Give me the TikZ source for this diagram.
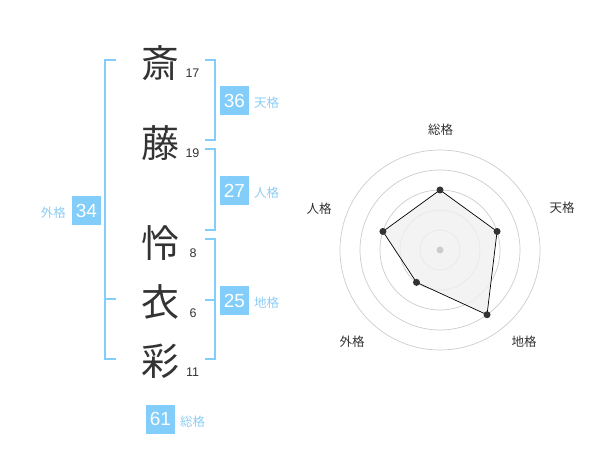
\documentclass[tikz,border=0pt]{standalone}
\usepackage{fontspec}
\setmainfont{Liberation Sans}
\newfontfamily\jp{Noto Sans CJK JP}
\definecolor{bluebox}{RGB}{130,205,250}
\definecolor{bluetxt}{RGB}{140,205,245}
\definecolor{kanjic}{RGB}{51,51,51}
\definecolor{ringc}{RGB}{204,204,204}
\definecolor{polyfill}{RGB}{240,240,240}
\tikzset{
  kanji/.style={font=\jp\fontsize{38}{38}\selectfont, text=kanjic, inner sep=0pt},
  strokes/.style={font=\fontsize{12.5}{13}\selectfont, text=kanjic, inner sep=0pt},
  valbox/.style={fill=bluebox, text=white, font=\fontsize{19}{19}\selectfont, minimum width=28.5, minimum height=29, inner sep=0pt},
  kaku/.style={font=\jp\fontsize{12.5}{13}\selectfont, text=bluetxt, inner sep=0pt},
  brk/.style={draw=bluebox, line width=2},
  ring/.style={draw=ringc, line width=0.7},
  axlabel/.style={font=\jp\fontsize{12.5}{13}\selectfont, text=kanjic, inner sep=0pt},
  vdot/.style={circle, fill=kanjic, inner sep=0pt, minimum size=7},
}
\begin{document}
\begin{tikzpicture}[x=1pt,y=-1pt]
\useasboundingbox (0,0) rectangle (600,470);
% kanji
\node[kanji] (k1) at (160,63) {斎};
\node[kanji] (k2) at (160,143) {藤};
\node[kanji] (k3) at (160,243) {怜};
\node[kanji] (k4) at (160,302) {衣};
\node[kanji] (k5) at (160,361) {彩};
\node[strokes] (s1) at (192.5,73) {17};
\node[strokes] (s2) at (192.5,153) {19};
\node[strokes] (s3) at (193,253) {8};
\node[strokes] (s4) at (193,313) {6};
\node[strokes] (s5) at (192.5,372) {11};
% brackets
\draw[brk] (116,60) -- (105,60) -- (105,359) -- (116,359);
\draw[brk] (105,299.5) -- (116,299.5);
\draw[brk] (205,60) -- (214.5,60) -- (214.5,140) -- (205,140);
\draw[brk] (205,149) -- (214.5,149) -- (214.5,230) -- (205,230);
\draw[brk] (205,239) -- (214.5,239) -- (214.5,359) -- (205,359);
\draw[brk] (205,300) -- (214.5,300);
% values
\node[valbox] (v1) at (234.5,100.5) {36};
\node[kaku, anchor=west] (l1) at (254,103) {天格};
\node[valbox] (v2) at (234.5,190.5) {27};
\node[kaku, anchor=west] (l2) at (254,193) {人格};
\node[valbox] (v3) at (234.5,300.5) {25};
\node[kaku, anchor=west] (l3) at (254,303) {地格};
\node[valbox] (v4) at (86.5,210.5) {34};
\node[kaku, anchor=east] (l4) at (66,213) {外格};
\node[valbox] (v5) at (160.5,419) {61};
\node[kaku, anchor=west] (l5) at (180,422) {総格};
% radar
\coordinate (c) at (440,250);
\foreach \r in {20,40,60,80,100} \draw[ring] (c) circle[radius=\r];
\path (c) ++(0,-60) coordinate (p1);
\path (c) ++(60*0.95106,-60*0.30902) coordinate (p2);
\path (c) ++(80*0.58779,80*0.80902) coordinate (p3);
\path (c) ++(-40*0.58779,40*0.80902) coordinate (p4);
\path (c) ++(-60*0.95106,-60*0.30902) coordinate (p5);
\draw[fill=polyfill, fill opacity=0.8, draw=black, line width=0.7] (p1) -- (p2) -- (p3) -- (p4) -- (p5) -- cycle;
\node[circle, fill=ringc, inner sep=0pt, minimum size=7] (cd) at (c) {};
\foreach \p in {p1,p2,p3,p4,p5} \node[vdot] at (\p) {};
\node[axlabel] (a1) at (440.5,130) {総格};
\node[axlabel] (a2) at (562,208) {天格};
\node[axlabel] (a3) at (524,342) {地格};
\node[axlabel] (a4) at (352,342) {外格};
\node[axlabel] (a5) at (319,209) {人格};
\end{tikzpicture}
\end{document}
